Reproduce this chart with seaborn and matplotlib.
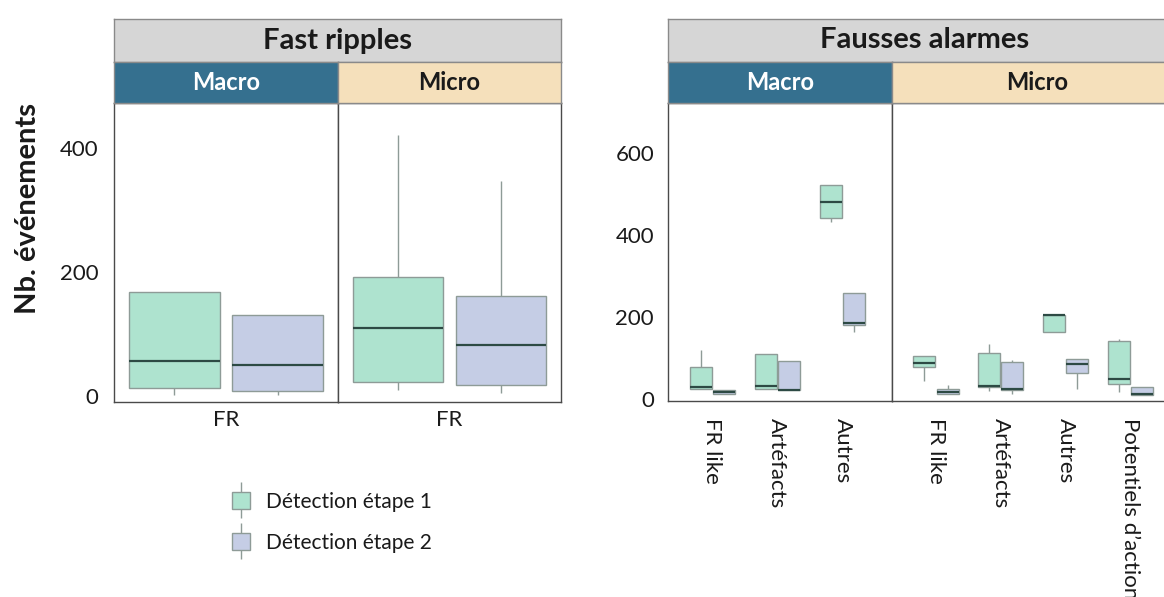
import numpy as np
import pandas as pd
import matplotlib
matplotlib.use("Agg")
import matplotlib.pyplot as plt
import seaborn as sns
from matplotlib.lines import Line2D
from matplotlib.patches import Patch
from matplotlib.legend_handler import HandlerTuple

sns.set_theme(style="white")
plt.rcParams["font.family"] = ["Lato", "DejaVu Sans"]

# detection steps (hue) and their fill colours
steps = ["Détection étape 1", "Détection étape 2"]
step_colors = ["#aee3cf", "#c5cde5"]

# five-number summaries: [min, q1, median, q3, max]
fr_cats = ["FR"]
fr_macro_step1 = [[2, 13, 56, 168, 168]]
fr_macro_step2 = [[1, 8, 50, 131, 131]]
fr_micro_step1 = [[10, 23, 110, 192, 421]]
fr_micro_step2 = [[5, 18, 82, 161, 347]]

fa_macro_cats = ["FR like", "Artéfacts", "Autres"]
fa_macro_step1 = [[26, 26, 30, 80, 121], [26, 26, 33, 110, 110], [432, 442, 480, 523, 523]]
fa_macro_step2 = [[14, 14, 19, 24, 24], [22, 22, 24, 93, 93], [164, 182, 185, 259, 259]]

fa_micro_cats = ["FR like", "Artéfacts", "Autres", "Potentiels d’action"]
fa_micro_step1 = [[44, 79, 89, 105, 105], [20, 30, 33, 114, 134], [163, 163, 205, 206, 206], [18, 38, 50, 141, 146]]
fa_micro_step2 = [[12, 12, 19, 25, 34], [12, 24, 26, 92, 95], [26, 64, 86, 99, 99], [11, 11, 12, 30, 30]]

W, H = 1164, 597
TXT = "#1a1a1a"


def long_df(cats, s1, s2):
    rows = []
    for step, boxes in zip(steps, [s1, s2]):
        for cat, vals in zip(cats, boxes):
            for v in vals:
                rows.append((cat, step, v))
    return pd.DataFrame(rows, columns=["cat", "step", "n"])


def px_axes(fig, x0, y0, x1, y1):
    return fig.add_axes([x0 / W, 1 - y1 / H, (x1 - x0) / W, (y1 - y0) / H])


def strip(fig, x0, y0, x1, y1, color, text, tcolor, size):
    ax = px_axes(fig, x0, y0, x1, y1)
    ax.set_facecolor(color)
    ax.set_xticks([])
    ax.set_yticks([])
    for s in ax.spines.values():
        s.set_color("#8a8a8a")
        s.set_linewidth(1)
    ax.text(0.5, 0.5, text, ha="center", va="center", color=tcolor,
            fontsize=size, fontweight="bold", transform=ax.transAxes)


def draw(ax, df, cats, width, gap, xlim, ylim):
    sns.boxplot(data=df, x="cat", y="n", hue="step", order=cats, hue_order=steps,
                palette=step_colors, saturation=1, width=width, gap=gap, whis=1000,
                linecolor="#8e9b97", linewidth=1, showcaps=False,
                medianprops=dict(color="#2d4a44", linewidth=1.6),
                legend=False, ax=ax)
    ax.set_xlim(*xlim)
    ax.set_ylim(*ylim)
    ax.set_xlabel("")
    ax.set_ylabel("")
    ax.tick_params(length=0, labelcolor=TXT)
    for s in ax.spines.values():
        s.set_color("#4a4a4a")
        s.set_linewidth(1)


fig = plt.figure(figsize=(W / 100, H / 100), dpi=100)

# ---- Fast ripples
left_ylim = (-10, 473)
ax1 = px_axes(fig, 114, 103, 338, 402)
ax2 = px_axes(fig, 338, 103, 561, 402)
draw(ax1, long_df(fr_cats, fr_macro_step1, fr_macro_step2), fr_cats, 0.92, 0.12, (-0.5, 0.5), left_ylim)
draw(ax2, long_df(fr_cats, fr_micro_step1, fr_micro_step2), fr_cats, 0.92, 0.12, (-0.5, 0.5), left_ylim)
ax1.set_yticks([0, 200, 400])
ax1.tick_params(axis="y", labelsize=16, pad=11)
ax2.set_yticks([])
for a in (ax1, ax2):
    a.tick_params(axis="x", labelsize=16, pad=6)

strip(fig, 114, 19, 561, 62, "#d6d6d6", "Fast ripples", TXT, 21)
strip(fig, 114, 62, 338, 103, "#35708f", "Macro", "white", 17)
strip(fig, 338, 62, 561, 103, "#f5e0bb", "Micro", TXT, 17)

# ---- Fausses alarmes
right_ylim = (-4, 722)
ax3 = px_axes(fig, 668, 103, 892, 401)
ax4 = px_axes(fig, 892, 103, 1182, 401)
draw(ax3, long_df(fa_macro_cats, fa_macro_step1, fa_macro_step2), fa_macro_cats, 0.72, 0.06, (-0.68, 2.76), right_ylim)
draw(ax4, long_df(fa_micro_cats, fa_micro_step1, fa_micro_step2), fa_micro_cats, 0.72, 0.06, (-0.68, 3.8), right_ylim)
ax3.set_yticks([0, 200, 400, 600])
ax3.tick_params(axis="y", labelsize=16, pad=10)
ax4.set_yticks([])
for a in (ax3, ax4):
    a.tick_params(axis="x", labelsize=16, pad=12)
    for lab in a.get_xticklabels():
        lab.set_rotation(-90)
        lab.set_va("top")
        lab.set_ha("center")

strip(fig, 668, 19, 1182, 62, "#d6d6d6", "Fausses alarmes", TXT, 21)
strip(fig, 668, 62, 892, 103, "#35708f", "Macro", "white", 17)
strip(fig, 892, 62, 1182, 103, "#f5e0bb", "Micro", TXT, 17)

fig.text(28 / W, 1 - 208 / H, "Nb. événements", rotation=90, ha="center", va="center",
         fontsize=21, fontweight="bold", color=TXT)

# legend: box glyph with whisker through it
handles = []
for c in step_colors:
    whisker = Line2D([], [], linestyle="none", marker="|", markersize=26,
                     markeredgecolor="#8e9b97", markeredgewidth=1)
    box = Patch(facecolor=c, edgecolor="#8e9b97", linewidth=1)
    handles.append((whisker, box))
leg = fig.legend(handles, steps, handler_map={tuple: HandlerTuple(ndivide=1, pad=0)},
                 loc="upper left", bbox_to_anchor=(232 / W, 1 - 492 / H), frameon=False,
                 fontsize=15, handlelength=0.85, handleheight=0.85, handletextpad=0.8,
                 labelspacing=1.0, borderpad=0, borderaxespad=0)
for t in leg.get_texts():
    t.set_color(TXT)

fig.savefig("out.png", dpi=100)
